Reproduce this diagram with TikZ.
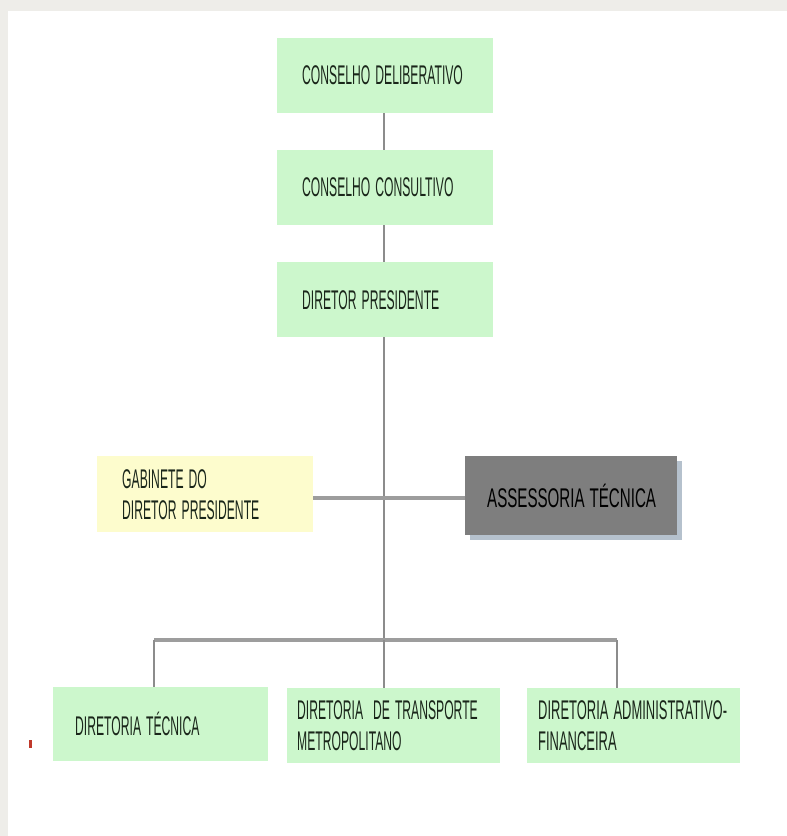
\documentclass[tikz,border=0pt]{standalone}
\usepackage{fontspec}
\setmainfont[FakeStretch=0.45]{Liberation Sans}
\newfontfamily\widerfont[FakeStretch=0.56]{Liberation Sans}
\newfontfamily\midfont[FakeStretch=0.48]{Liberation Sans}
\usetikzlibrary{shadows}
\hyphenpenalty=10000
\exhyphenpenalty=10000
\hbadness=10000
\hfuzz=200pt
\newcommand{\orgfont}{\fontsize{27}{31}\selectfont}
\newcommand{\gap}{\nobreak\hspace{5pt}\nobreak}
\definecolor{boxgreen}{HTML}{CCF7CC}
\definecolor{boxyellow}{HTML}{FDFCCD}
\definecolor{boxgray}{HTML}{7E7E7E}
\definecolor{shadowblue}{HTML}{B5C1CD}
\definecolor{linegray}{HTML}{8C8C8C}
\definecolor{txt}{HTML}{1A261A}
\definecolor{outergray}{HTML}{EEEDE9}
\definecolor{markred}{HTML}{C0392B}
\tikzset{
  orgbox/.style={rectangle, draw=none, inner ysep=0pt, align=left,
    font=\orgfont, text=txt, anchor=north west},
  greenbox/.style={orgbox, fill=boxgreen},
  conn/.style={draw=linegray, line width=2pt},
  connthick/.style={draw=linegray!85, line width=3.5pt},
}
\begin{document}
\begin{tikzpicture}[x=1pt,y=-1pt]
\useasboundingbox (0,0) rectangle (787,836);
\fill[outergray] (0,0) rectangle (787,836);
\fill[white] (8,11) rectangle (787,836);

% top column
\node[greenbox, inner xsep=25pt, text width=166pt, minimum height=75pt] (cd) at (277,38) {CONSELHO\gap DELIBERATIVO};
\node[greenbox, inner xsep=25pt, text width=166pt, minimum height=75pt] (cc) at (277,150) {CONSELHO\gap CONSULTIVO};
\node[greenbox, inner xsep=25pt, text width=166pt, minimum height=75pt] (dp) at (277,262) {DIRETOR\gap PRESIDENTE};

% side boxes
\node[orgbox, fill=boxyellow, inner xsep=25pt, text width=166pt, minimum height=76pt] (gab) at (97,456) {GABINETE\gap DO\\DIRETOR\gap PRESIDENTE};
\node[orgbox, fill=boxgray, text=black, font=\widerfont\orgfont, inner xsep=22pt, text width=168pt, minimum height=79pt,
  drop shadow={shadow xshift=5pt, shadow yshift=-5pt, fill=shadowblue, opacity=1}] (ass) at (465,456) {ASSESSORIA\gap TÉCNICA};

% bottom row
\node[greenbox, inner xsep=22pt, text width=171pt, minimum height=74pt] (dt) at (53,687) {DIRETORIA\gap TÉCNICA};
\node[greenbox, inner xsep=10pt, text width=193pt, minimum height=75pt] (dtm) at (287,688) {DIRETORIA\gap\gap DE\gap TRANSPORTE\\METROPOLITANO};
\node[greenbox, font=\midfont\orgfont, inner xsep=11pt, text width=191pt, minimum height=75pt] (daf) at (527,688) {DIRETORIA\gap ADMINISTRATIVO-\\FINANCEIRA};

% connector coordinates
\coordinate (busL) at (154,640);
\coordinate (busC) at (384,640);
\coordinate (busR) at (617,640);
\coordinate (hl) at (384,498);

% connectors
\draw[conn] (cd.south -| busC) -- (cc.north -| busC);
\draw[conn] (cc.south -| busC) -- (dp.north -| busC);
\draw[conn] (dp.south -| busC) -- (busC);
\draw[connthick] (gab.east |- hl) -- (ass.west |- hl);
\draw[connthick] (busL) -- (busR);
\draw[conn] (busL) -- (busL |- dt.north);
\draw[conn] (busC) -- (busC |- dtm.north);
\draw[conn] (busR) -- (busR |- daf.north);

% small red mark
\fill[markred] (29,740) rectangle (32,748);
\end{tikzpicture}
\end{document}
